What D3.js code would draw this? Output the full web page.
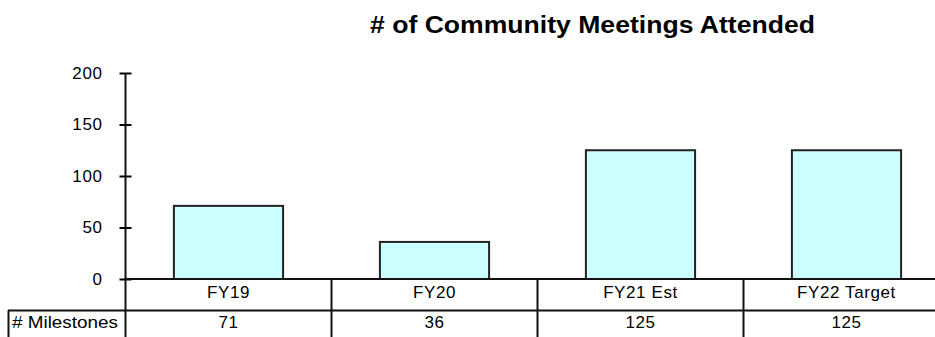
<!DOCTYPE html>
<html>
<head>
<meta charset="utf-8">
<script src="https://cdn.jsdelivr.net/npm/d3@7"></script>
<style>
  html, body { margin: 0; padding: 0; background: #fff; }
  svg { display: block; }
  text { font-family: "Liberation Sans", Arial, sans-serif; fill: #000; }
</style>
</head>
<body>
<svg id="chart" width="935" height="337"></svg>
<script>
const title = "# of Community Meetings Attended";
const categories = ["FY19", "FY20", "FY21 Est", "FY22 Target"];
const values = [71, 36, 125, 125];
const seriesName = "# Milestones";
const yTicks = [0, 50, 100, 150, 200];

(function () {
const svg = d3.select("#chart");
const W = 935, H = 337;
const plotLeft = 125.5, colStep = 206;
const plotRight = plotLeft + categories.length * colStep;
const plotTop = 73, base = 279;
const rowH = 31.5;
const fs = 17, ls = "0.6px";

const x = d3.scaleBand().domain(categories).range([plotLeft, plotRight])
  .paddingInner(0.47).paddingOuter(0.235);
const y = d3.scaleLinear().domain([0, 200]).range([base, plotTop]);

// Title
svg.append("text")
  .attr("x", 592.5).attr("y", 33)
  .attr("text-anchor", "middle")
  .attr("font-weight", "bold")
  .attr("font-size", 23.5)
  .attr("textLength", 445)
  .attr("lengthAdjust", "spacingAndGlyphs")
  .text(title);

// Bars
svg.selectAll("rect.bar").data(values).enter().append("rect")
  .attr("class", "bar")
  .attr("x", (d, i) => x(categories[i]))
  .attr("y", d => y(d))
  .attr("width", x.bandwidth())
  .attr("height", d => base - y(d))
  .attr("fill", "#CCFFFF")
  .attr("stroke", "#222")
  .attr("stroke-width", 2);

// Y axis
const yAxis = d3.axisLeft(y).tickValues(yTicks).tickSize(6).tickPadding(17);
const gy = svg.append("g").attr("transform", `translate(${plotLeft},0)`).call(yAxis);
gy.select(".domain").remove();
gy.selectAll(".tick line").attr("x1", -6).attr("x2", 6).attr("stroke", "#000").attr("stroke-width", 2);
gy.selectAll(".tick text").attr("font-size", fs).attr("letter-spacing", ls)
  .attr("font-family", "Liberation Sans, Arial, sans-serif").attr("fill", "#000");
svg.append("line").attr("x1", plotLeft).attr("x2", plotLeft).attr("y1", plotTop).attr("y2", H)
  .attr("stroke", "#111").attr("stroke-width", 2);

// Data table
const lineC = "#111";
svg.append("line").attr("x1", plotLeft).attr("x2", W).attr("y1", base).attr("y2", base)
  .attr("stroke", lineC).attr("stroke-width", 2);
svg.append("line").attr("x1", 8).attr("x2", W).attr("y1", base + rowH).attr("y2", base + rowH)
  .attr("stroke", lineC).attr("stroke-width", 2);
svg.append("line").attr("x1", 8.5).attr("x2", 8.5).attr("y1", base + rowH).attr("y2", H)
  .attr("stroke", lineC).attr("stroke-width", 2);
categories.forEach((c, i) => {
  if (i > 0) {
    const xs = plotLeft + i * colStep;
    svg.append("line").attr("x1", xs).attr("x2", xs).attr("y1", base).attr("y2", H)
      .attr("stroke", lineC).attr("stroke-width", 2);
  }
});

const cx = c => x(c) + x.bandwidth() / 2;
svg.selectAll("text.cat").data(categories).enter().append("text")
  .attr("class", "cat")
  .attr("x", d => cx(d)).attr("y", base + 19)
  .attr("text-anchor", "middle").attr("font-size", fs).attr("letter-spacing", ls)
  .text(d => d);
svg.selectAll("text.val").data(values).enter().append("text")
  .attr("class", "val")
  .attr("x", (d, i) => cx(categories[i])).attr("y", base + 49)
  .attr("text-anchor", "middle").attr("font-size", fs).attr("letter-spacing", ls)
  .text(d => d);
svg.append("text").attr("x", 12).attr("y", base + 49)
  .attr("font-size", fs).attr("textLength", 106).attr("lengthAdjust", "spacingAndGlyphs")
  .text(seriesName);
})();
</script>
</body>
</html>
